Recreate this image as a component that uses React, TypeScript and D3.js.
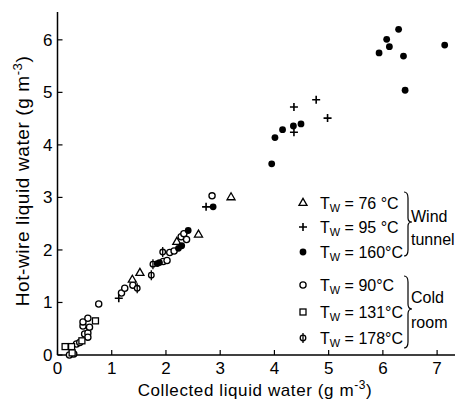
import React from "react";
import * as d3 from "d3";

const wind76 = [
  [1.38, 1.43], [1.52, 1.56], [2.2, 2.15], [2.6, 2.29], [3.2, 3.0],
];
const wind95 = [
  [1.13, 1.08], [2.74, 2.82], [4.36, 4.24], [4.36, 4.72], [4.77, 4.86], [4.98, 4.51],
];
const wind160 = [
  [1.84, 1.74], [1.88, 1.76], [2.23, 2.03], [2.29, 2.08], [2.41, 2.37], [2.87, 2.82],
  [3.95, 3.64], [4.01, 4.14], [4.15, 4.29], [4.35, 4.36], [4.49, 4.4],
  [5.93, 5.75], [6.07, 6.01], [6.12, 5.87], [6.29, 6.2], [6.38, 5.69], [6.41, 5.04], [7.14, 5.9],
];
const cold90 = [
  [0.22, 0.0], [0.3, 0.02], [0.35, 0.21], [0.41, 0.24], [0.47, 0.55], [0.47, 0.63],
  [0.5, 0.4], [0.56, 0.42], [0.56, 0.34], [0.56, 0.7], [0.59, 0.53], [0.76, 0.97],
  [1.18, 1.18], [1.24, 1.27], [1.39, 1.33], [1.95, 1.78], [2.02, 1.8], [2.07, 1.95],
  [2.15, 1.98], [2.28, 2.25], [2.33, 2.31], [2.38, 2.2], [2.85, 3.03],
];
const cold131 = [
  [0.14, 0.16], [0.26, 0.16], [0.27, 0.04], [0.45, 0.27], [0.7, 0.65],
];
const cold178 = [
  [1.47, 1.27], [1.73, 1.52], [1.76, 1.73], [1.94, 1.96],
];

const xTicks = [0, 1, 2, 3, 4, 5, 6, 7];
const yTicks = [0, 1, 2, 3, 4, 5, 6];
const legendTemps = ["76 °C", "95 °C", "160°C", "90°C", "131°C", "178°C"];
const legendKinds = ["tri", "plus", "dot", "circle", "square", "phi"];

const font = "'Liberation Sans', Arial, sans-serif";

const x = d3.scaleLinear().domain([0, 7.33]).range([57.5, 455]);
const y = d3.scaleLinear().domain([0, 6.53]).range([355, 12]);

function Marker({ kind, cx, cy }: { kind: string; cx: number; cy: number }) {
  const s = { stroke: "#000", strokeWidth: 1.3 };
  if (kind === "dot") return <circle cx={cx} cy={cy} r={3.4} fill="#000" />;
  if (kind === "circle") return <circle cx={cx} cy={cy} r={3.1} fill="#fff" {...s} />;
  if (kind === "square")
    return <rect x={cx - 3} y={cy - 3} width={6} height={6} fill="#fff" {...s} />;
  if (kind === "tri") {
    const p = d3.symbol(d3.symbolTriangle, 28)()!;
    return <path d={p} transform={`translate(${cx},${cy})`} fill="#fff" {...s} />;
  }
  if (kind === "plus")
    return (
      <path d={`M${cx - 4},${cy}H${cx + 4}M${cx},${cy - 4}V${cy + 4}`} fill="none" stroke="#000" strokeWidth={1.6} />
    );
  // circle with a vertical bar
  return (
    <g>
      <circle cx={cx} cy={cy} r={2.8} fill="#fff" {...s} />
      <line x1={cx} x2={cx} y1={cy - 5} y2={cy + 5} {...s} />
    </g>
  );
}

const series: [number[][], string][] = [
  [cold90, "circle"],
  [cold131, "square"],
  [cold178, "phi"],
  [wind76, "tri"],
  [wind95, "plus"],
  [wind160, "dot"],
];

export default function App() {
  const legendY = [203, 227, 252, 285, 312, 338];
  return (
    <svg
      width={471}
      height={402}
      style={{ position: "absolute", left: 0, top: 0, background: "#fff" }}
      fontFamily={font}
    >
      {/* axes */}
      <line x1={x(0)} x2={x(0)} y1={y(0)} y2={y.range()[1]} stroke="#000" strokeWidth={1.5} />
      <line x1={x(0)} x2={x.range()[1]} y1={y(0)} y2={y(0)} stroke="#000" strokeWidth={1.5} />
      {yTicks.map((t) => (
        <g key={"y" + t}>
          <line x1={x(0)} x2={x(0) + 5} y1={y(t)} y2={y(t)} stroke="#000" strokeWidth={1.2} />
          <text x={x(0) - 5} y={y(t)} dy="0.35em" textAnchor="end" fontSize={17}>
            {t}
          </text>
        </g>
      ))}
      {xTicks.map((t) => (
        <g key={"x" + t}>
          <line x1={x(t)} x2={x(t)} y1={y(0)} y2={y(0) - 5} stroke="#000" strokeWidth={1.2} />
          <text x={x(t)} y={y(0) + 19} textAnchor="middle" fontSize={17}>
            {t}
          </text>
        </g>
      ))}
      <text x={255} y={396} textAnchor="middle" fontSize={17} letterSpacing={0.6}>
        Collected liquid water (g m<tspan dy={-7} fontSize={12}>-3</tspan>
        <tspan dy={7}>)</tspan>
      </text>
      <text transform="translate(29,181) rotate(-90)" textAnchor="middle" fontSize={19} letterSpacing={0.6}>
        Hot-wire liquid water (g m<tspan dy={-7} fontSize={13}>-3</tspan>
        <tspan dy={7}>)</tspan>
      </text>

      {/* data */}
      {series.map(([data, kind]) =>
        data.map((d, i) => <Marker key={kind + i} kind={kind} cx={x(d[0])} cy={y(d[1])} />)
      )}

      {/* legend */}
      {legendKinds.map((k, i) => (
        <g key={"lg" + k}>
          <Marker kind={k} cx={303} cy={legendY[i]} />
          <text x={320} y={legendY[i]} dy="0.35em" fontSize={16}>
            T<tspan dy={3} fontSize={11}>W</tspan>
            <tspan dy={-3}> = {legendTemps[i]}</tspan>
          </text>
        </g>
      ))}
      <path d="M404,192 q4,0 4,6 v20 q0,4 4,4 q-4,0 -4,4 v24 q0,6 -4,6" fill="none" stroke="#000" strokeWidth={1.2} />
      <text x={411} y={216} dy="0.35em" fontSize={16}>Wind</text>
      <text x={411} y={239} dy="0.35em" fontSize={16}>tunnel</text>
      <path d="M404,276 q4,0 4,6 v22 q0,5 4,5 q-4,0 -4,5 v28 q0,6 -4,6" fill="none" stroke="#000" strokeWidth={1.2} />
      <text x={411} y={297} dy="0.35em" fontSize={16}>Cold</text>
      <text x={411} y={322} dy="0.35em" fontSize={16}>room</text>
    </svg>
  );
}
